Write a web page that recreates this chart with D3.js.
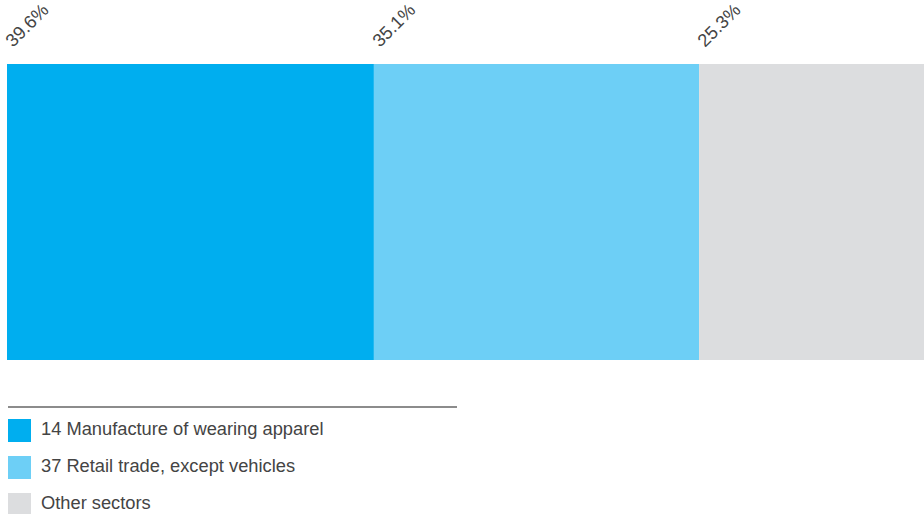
<!DOCTYPE html>
<html><head><meta charset="utf-8">
<script src="https://cdn.jsdelivr.net/npm/d3@7"></script>
<style>html,body{margin:0;padding:0;background:#fff;overflow:hidden}</style>
</head><body><svg id="c" width="924" height="514"></svg>
<script>
const categories = ["14 Manufacture of wearing apparel", "37 Retail trade, except vehicles", "Other sectors"];
const values = [39.6, 35.1, 25.3];
const labels = ["39.6%", "35.1%", "25.3%"];
const colors = ["#00aeef", "#6dcff6", "#dcdddf"];

const svg = d3.select("#c");
const font = "'Liberation Sans', Arial, sans-serif";
const x = d3.scaleLinear().domain([0, 100]).range([7, 933.5]);
let cum = 0;
const segs = values.map((v, i) => { const s = {start: cum, end: cum + v, i}; cum += v; return s; });

svg.selectAll("rect.seg").data(segs).enter().append("rect")
  .attr("x", d => x(d.start)).attr("y", 64)
  .attr("width", d => x(d.end) - x(d.start)).attr("height", 296)
  .attr("fill", d => colors[d.i]);

svg.selectAll("text.lbl").data(segs).enter().append("text")
  .attr("transform", d => `translate(${x(d.start) + 6},48) rotate(-45)`)
  .attr("font-family", font).attr("font-size", 18.3).attr("fill", "#444")
  .text(d => labels[d.i]);

svg.append("line").attr("x1", 8).attr("x2", 457).attr("y1", 407).attr("y2", 407)
  .attr("stroke", "#666").attr("stroke-width", 1.5);

const lg = svg.selectAll("g.lg").data(categories).enter().append("g")
  .attr("transform", (d, i) => `translate(8,${419 + i * 37})`);
lg.append("rect").attr("width", 23).attr("height", 23).attr("fill", (d, i) => colors[i]);
lg.append("text").attr("x", 33).attr("y", 16).attr("font-family", font).attr("font-size", 18.3)
  .attr("fill", "#444").text(d => d);
</script></body></html>
